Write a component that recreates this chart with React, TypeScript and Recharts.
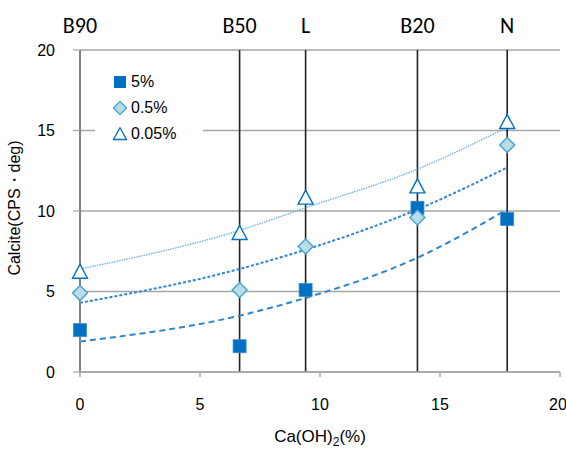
import { ComposedChart, XAxis, YAxis, CartesianGrid, Scatter, Line, ReferenceLine, Legend } from 'recharts';

document.body.style.margin = '0';

// Ca(OH)2 content of each sample
const SAMPLES = ['B90', 'B50', 'L', 'B20', 'N'];
const CAOH2 = [0, 6.65, 9.4, 14.06, 17.8];

// measured calcite values
const S_5 = [2.6, 1.6, 5.1, 10.2, 9.5];
const S_05 = [4.9, 5.1, 7.8, 9.6, 14.1];
const S_005 = [6.2, 8.6, 10.8, 11.5, 15.5];

// trend lines at the sample positions
const T_5 = [1.9, 3.5, 4.6, 7.1, 10.1];
const T_05 = [4.3, 6.4, 7.6, 10.1, 12.7];
const T_005 = [6.4, 8.8, 10.2, 12.6, 15.2];

const X_TICKS = [0, 5, 10, 15, 20];
const Y_TICKS = [0, 5, 10, 15, 20];

const data = CAOH2.map((x, i) => ({
  x,
  s5: S_5[i],
  s05: S_05[i],
  s005: S_005[i],
  t5: T_5[i],
  t05: T_05[i],
  t005: T_005[i],
}));

const ARIAL = '"Liberation Sans", Arial, sans-serif';
const BLUE = '#0070C0';
const TREND = '#2E86D1';

const SquareShape = (p: any) => (
  <rect x={p.cx - 6.5} y={p.cy - 6.5} width={13} height={13} fill={BLUE} stroke="#3a8ad0" strokeWidth={0.8} />
);
const DiamondShape = (p: any) => (
  <polygon
    points={`${p.cx},${p.cy - 7.5} ${p.cx + 7.5},${p.cy} ${p.cx},${p.cy + 7.5} ${p.cx - 7.5},${p.cy}`}
    fill="#B7DEE8"
    stroke="#4A9FD6"
    strokeWidth={1.4}
  />
);
const TriangleShape = (p: any) => (
  <polygon
    points={`${p.cx},${p.cy - 8} ${p.cx + 7.5},${p.cy + 6} ${p.cx - 7.5},${p.cy + 6}`}
    fill="#fff"
    stroke={BLUE}
    strokeWidth={1.4}
  />
);

const legendItems = [
  { label: '5%', icon: <rect x={1} y={1} width={12} height={12} fill={BLUE} /> },
  { label: '0.5%', icon: <polygon points="7,0.5 13.5,7 7,13.5 0.5,7" fill="#B7DEE8" stroke="#4A9FD6" strokeWidth={1.3} /> },
  { label: '0.05%', icon: <polygon points="7,0.8 13.5,12.5 0.5,12.5" fill="#fff" stroke={BLUE} strokeWidth={1.3} /> },
];

const LegendBox = () => (
  <div style={{ background: '#fff', padding: '7px 4px 4px 18px', fontFamily: ARIAL, fontSize: 16, color: '#000' }}>
    {legendItems.map((it) => (
      <div key={it.label} style={{ display: 'flex', alignItems: 'center', height: 26 }}>
        <svg width={14} height={14} style={{ marginRight: 4 }}>{it.icon}</svg>
        <span>{it.label}</span>
      </div>
    ))}
  </div>
);

const XLabel = () => (
  <text x={320} y={442} textAnchor="middle" fontFamily={ARIAL} fontSize={17} fill="#000">
    Ca(OH)<tspan fontSize={12} dy={4}>2</tspan><tspan dy={-4}>(%)</tspan>
  </text>
);

const YLabel = () => (
  <text x={20} y={208} transform="rotate(-90 20 208)" textAnchor="middle" fontFamily={ARIAL} fontSize={16} fill="#000">
    Calcite(CPS・deg)
  </text>
);

export default function App() {
  return (
    <ComposedChart width={566} height={450} data={data} margin={{ top: 50, right: 6, left: 0, bottom: 0 }}>
      <CartesianGrid vertical={false} stroke="#a6a6a6" strokeWidth={1.5} />
      <XAxis
        dataKey="x"
        type="number"
        domain={[0, 20]}
        ticks={X_TICKS}
        height={78}
        stroke="#a6a6a6"
        strokeWidth={1.5}
        tickSize={5}
        tickMargin={22}
        tick={{ fill: '#000', fontSize: 16, fontFamily: ARIAL }}
        label={<XLabel />}
      />
      <YAxis
        type="number"
        domain={[0, 20]}
        ticks={Y_TICKS}
        width={80}
        stroke="#a6a6a6"
        strokeWidth={1.2}
        tickSize={7}
        tickMargin={18}
        tick={{ fill: '#000', fontSize: 16, fontFamily: ARIAL }}
        label={<YLabel />}
      />
      {CAOH2.map((x, i) => (
        <ReferenceLine
          key={SAMPLES[i]}
          x={x}
          stroke="#222"
          strokeWidth={1.6}
          label={{ value: SAMPLES[i], position: 'top', offset: 17, fill: '#000', fontSize: 22, fontFamily: 'Carlito, "Open Sans", sans-serif' }}
        />
      ))}
      <Line dataKey="t5" type="monotone" stroke={TREND} strokeWidth={2} strokeDasharray="6 4" dot={false} isAnimationActive={false} legendType="none" />
      <Line dataKey="t05" type="monotone" stroke={TREND} strokeWidth={2} strokeDasharray="3 2" dot={false} isAnimationActive={false} legendType="none" />
      <Line dataKey="t005" type="monotone" stroke="#6AAEE0" strokeWidth={1.3} strokeDasharray="1.5 1" dot={false} isAnimationActive={false} legendType="none" />
      <Scatter dataKey="s5" shape={SquareShape} isAnimationActive={false} />
      <Scatter dataKey="s05" shape={DiamondShape} isAnimationActive={false} />
      <Scatter dataKey="s005" shape={TriangleShape} isAnimationActive={false} />
      <Legend content={<LegendBox />} layout="vertical" verticalAlign="middle" align="center" wrapperStyle={{ left: 95, top: 62, width: 108 }} />
    </ComposedChart>
  );
}
